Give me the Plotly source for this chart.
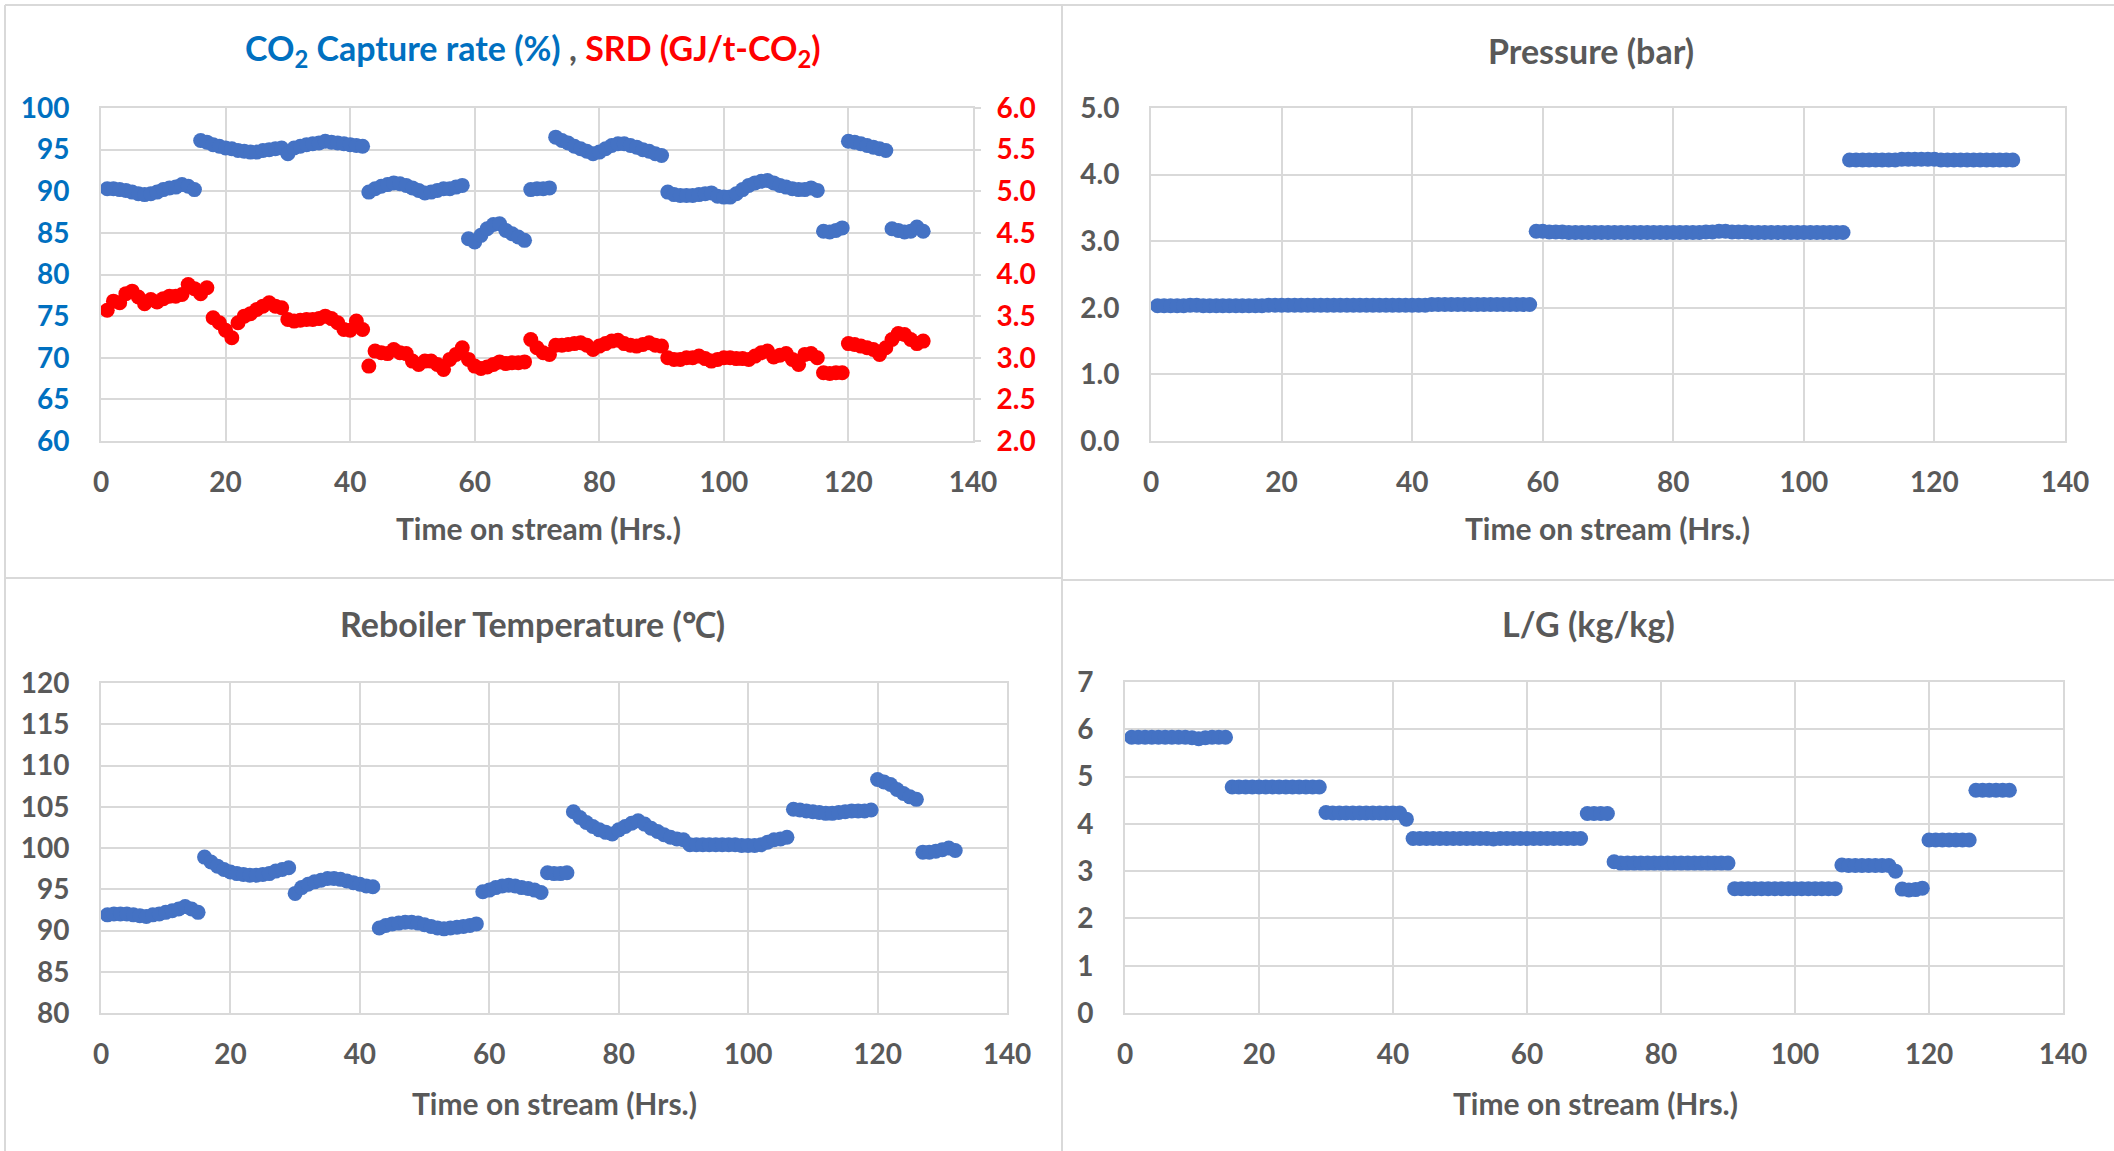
import plotly.graph_objects as go

# ---------------- data (hourly readings, grouped into runs) ----------------
capture_starts = [1, 16, 43, 59, 69, 73, 91, 116, 120, 127]
capture_values = [
    [90.3, 90.3, 90.2, 90.1, 89.9, 89.7, 89.6, 89.7, 89.9, 90.2, 90.4, 90.5, 90.8, 90.6, 90.2],
    [96.1, 95.9, 95.6, 95.4, 95.2, 95.1, 94.9, 94.8, 94.7, 94.7, 94.9, 95.0, 95.1, 95.2, 94.5,
     95.2, 95.4, 95.6, 95.7, 95.8, 96.0, 95.9, 95.8, 95.7, 95.6, 95.5, 95.4],
    [89.9, 90.3, 90.6, 90.8, 91.0, 90.9, 90.7, 90.4, 90.1, 89.8, 89.9, 90.1, 90.3, 90.3, 90.5, 90.7],
    [84.3, 83.9, 84.7, 85.5, 86.0, 86.1, 85.3, 84.9, 84.5, 84.1],
    [90.2, 90.3, 90.3, 90.4],
    [96.5, 96.1, 95.8, 95.4, 95.1, 94.8, 94.5, 94.7, 95.1, 95.5, 95.7, 95.7, 95.5, 95.3, 95.0,
     94.8, 94.5, 94.3],
    [89.9, 89.6, 89.5, 89.5, 89.5, 89.6, 89.7, 89.8, 89.4, 89.3, 89.3, 89.7, 90.2, 90.7, 91.0,
     91.2, 91.3, 91.0, 90.7, 90.5, 90.3, 90.2, 90.2, 90.4, 90.1],
    [85.2, 85.1, 85.3, 85.6],
    [96.0, 95.9, 95.7, 95.5, 95.3, 95.1, 94.9],
    [85.5, 85.3, 85.1, 85.2, 85.7, 85.2],
]

srd_starts = [1, 18, 43, 59, 69, 73, 91, 116, 120]
srd_values = [
    [3.57, 3.68, 3.66, 3.77, 3.80, 3.73, 3.65, 3.70, 3.67, 3.71, 3.74, 3.74, 3.76, 3.88, 3.83, 3.77, 3.84],
    [3.48, 3.42, 3.33, 3.24, 3.42, 3.50, 3.53, 3.58, 3.62, 3.66, 3.62, 3.60, 3.46, 3.44, 3.45,
     3.46, 3.46, 3.47, 3.50, 3.47, 3.42, 3.34, 3.33, 3.44, 3.34],
    [2.90, 3.08, 3.06, 3.05, 3.10, 3.06, 3.05, 2.96, 2.92, 2.96, 2.96, 2.92, 2.86, 2.98, 3.04, 3.12],
    [2.98, 2.90, 2.87, 2.89, 2.92, 2.95, 2.93, 2.94, 2.94, 2.95],
    [3.22, 3.12, 3.06, 3.04],
    [3.15, 3.15, 3.16, 3.17, 3.18, 3.15, 3.10, 3.14, 3.17, 3.20, 3.21, 3.17, 3.15, 3.14, 3.16,
     3.18, 3.15, 3.14],
    [3.00, 2.98, 2.98, 3.00, 3.00, 3.02, 2.99, 2.96, 2.98, 3.00, 3.00, 2.99, 2.99, 2.98, 3.02,
     3.06, 3.08, 3.01, 3.03, 3.05, 2.98, 2.92, 3.04, 3.05, 3.00],
    [2.82, 2.81, 2.82, 2.82],
    [3.17, 3.16, 3.14, 3.12, 3.10, 3.04, 3.12, 3.22, 3.29, 3.28, 3.22, 3.17, 3.20],
]

pressure_starts = [1, 59, 107]
pressure_values = [
    [2.03, 2.03, 2.03, 2.03, 2.03, 2.04, 2.04, 2.03, 2.03, 2.03, 2.03, 2.03, 2.03, 2.03, 2.03,
     2.03, 2.03, 2.04, 2.04, 2.04, 2.04, 2.04, 2.04, 2.04, 2.04, 2.04, 2.04, 2.04, 2.04, 2.04,
     2.04, 2.04, 2.04, 2.04, 2.04, 2.04, 2.04, 2.04, 2.04, 2.04, 2.04, 2.04, 2.05, 2.05, 2.05,
     2.05, 2.05, 2.05, 2.05, 2.05, 2.05, 2.05, 2.05, 2.05, 2.05, 2.05, 2.05, 2.05],
    [3.15, 3.15, 3.14, 3.14, 3.14, 3.13, 3.13, 3.13, 3.13, 3.13, 3.13, 3.13, 3.13, 3.13, 3.13,
     3.13, 3.13, 3.13, 3.13, 3.13, 3.13, 3.13, 3.13, 3.13, 3.13, 3.13, 3.14, 3.14, 3.15, 3.15,
     3.14, 3.14, 3.14, 3.13, 3.13, 3.13, 3.13, 3.13, 3.13, 3.13, 3.13, 3.13, 3.13, 3.13, 3.13,
     3.13, 3.13, 3.13],
    [4.22, 4.22, 4.22, 4.22, 4.22, 4.22, 4.22, 4.22, 4.23, 4.23, 4.23, 4.23, 4.23, 4.23, 4.22,
     4.22, 4.22, 4.22, 4.22, 4.22, 4.22, 4.22, 4.22, 4.22, 4.22, 4.22],
]

reboiler_starts = [1, 16, 30, 43, 59, 69, 73, 107, 120, 127]
reboiler_values = [
    [91.9, 92.0, 92.0, 92.0, 91.9, 91.8, 91.7, 91.9, 92.0, 92.2, 92.4, 92.6, 92.9, 92.6, 92.2],
    [98.9, 98.3, 97.8, 97.4, 97.1, 96.9, 96.8, 96.7, 96.7, 96.8, 96.9, 97.2, 97.4, 97.6],
    [94.5, 95.2, 95.6, 95.9, 96.1, 96.3, 96.3, 96.2, 96.0, 95.8, 95.6, 95.4, 95.3],
    [90.3, 90.6, 90.8, 90.9, 91.0, 91.0, 90.9, 90.7, 90.5, 90.3, 90.2, 90.3, 90.4, 90.5, 90.6, 90.8],
    [94.7, 94.9, 95.2, 95.4, 95.5, 95.4, 95.2, 95.1, 94.9, 94.6],
    [97.0, 96.9, 96.9, 97.0],
    [104.4, 103.7, 103.1, 102.6, 102.2, 101.9, 101.7, 102.2, 102.6, 103.0, 103.3, 102.9, 102.4,
     102.0, 101.6, 101.3, 101.1, 101.0, 100.4, 100.4, 100.4, 100.4, 100.4, 100.4, 100.4, 100.4,
     100.3, 100.3, 100.3, 100.4, 100.7, 101.0, 101.1, 101.3],
    [104.7, 104.6, 104.5, 104.4, 104.3, 104.2, 104.2, 104.3, 104.4, 104.5, 104.5, 104.5, 104.6],
    [108.3, 108.0, 107.7, 107.1, 106.6, 106.2, 105.9],
    [99.5, 99.5, 99.6, 99.8, 100.0, 99.7],
]

lg_starts = [1, 16, 30, 43, 69, 73, 91, 107, 116, 120, 127]
lg_values = [
    [5.83, 5.83, 5.83, 5.83, 5.83, 5.83, 5.83, 5.83, 5.83, 5.82, 5.80, 5.82, 5.83, 5.83, 5.83],
    [4.78, 4.78, 4.78, 4.78, 4.78, 4.78, 4.78, 4.78, 4.78, 4.78, 4.78, 4.78, 4.78, 4.78],
    [4.24, 4.23, 4.23, 4.23, 4.23, 4.23, 4.23, 4.23, 4.23, 4.23, 4.23, 4.23, 4.10],
    [3.69, 3.69, 3.69, 3.69, 3.69, 3.69, 3.69, 3.69, 3.69, 3.69, 3.69, 3.69, 3.68, 3.69, 3.69,
     3.69, 3.69, 3.69, 3.69, 3.69, 3.69, 3.69, 3.69, 3.69, 3.69, 3.69],
    [4.22, 4.22, 4.22, 4.22],
    [3.20, 3.17, 3.17, 3.17, 3.17, 3.17, 3.17, 3.17, 3.17, 3.17, 3.17, 3.17, 3.17, 3.17, 3.17,
     3.17, 3.17, 3.17],
    [2.63, 2.63, 2.63, 2.63, 2.63, 2.63, 2.63, 2.63, 2.63, 2.63, 2.63, 2.63, 2.63, 2.63, 2.63, 2.63],
    [3.13, 3.12, 3.12, 3.12, 3.12, 3.12, 3.12, 3.12, 3.00],
    [2.62, 2.60, 2.61, 2.64],
    [3.66, 3.66, 3.66, 3.66, 3.66, 3.66, 3.66],
    [4.71, 4.71, 4.71, 4.71, 4.71, 4.71],
]

x_ticks = [0, 20, 40, 60, 80, 100, 120, 140]


def expand(starts, values):
    xs, ys = [], []
    for s, vals in zip(starts, values):
        for i, v in enumerate(vals):
            xs.append(s + i)
            ys.append(v)
    return xs, ys


W, H = 2114, 1151
BLUE = "#4472C4"
RED = "#FF0000"
GREY = "#595959"
GRID = "#D9D9D9"
FONT = "Lato"
MSIZE = 15


def px(x):
    return x / W


def py(y):
    return 1 - y / H


fig = go.Figure()

cx, cy = expand(capture_starts, capture_values)
sx, sy = expand(srd_starts, srd_values)
prx, pry = expand(pressure_starts, pressure_values)
rx, ry = expand(reboiler_starts, reboiler_values)
lx, ly = expand(lg_starts, lg_values)

mk = lambda c: dict(color=c, size=MSIZE, line=dict(width=0))
fig.add_trace(go.Scatter(x=cx, y=cy, mode="markers", marker=mk(BLUE), xaxis="x", yaxis="y", showlegend=False))
fig.add_trace(go.Scatter(x=sx, y=sy, mode="markers", marker=mk(RED), xaxis="x", yaxis="y5", showlegend=False))
fig.add_trace(go.Scatter(x=prx, y=pry, mode="markers", marker=mk(BLUE), xaxis="x2", yaxis="y2", showlegend=False))
fig.add_trace(go.Scatter(x=rx, y=ry, mode="markers", marker=mk(BLUE), xaxis="x3", yaxis="y3", showlegend=False))
fig.add_trace(go.Scatter(x=lx, y=ly, mode="markers", marker=mk(BLUE), xaxis="x4", yaxis="y4", showlegend=False))

TICK_SIZE = 28
tickfont = dict(family=FONT, size=TICK_SIZE, color=GREY, weight=700)


def xax(domain, anchor):
    return dict(domain=domain, anchor=anchor, range=[0, 140], tickvals=x_ticks,
                showgrid=True, gridcolor=GRID, gridwidth=2, zeroline=False,
                showline=True, linecolor=GRID, linewidth=2, mirror=True, automargin=False,
                ticks="", tickfont=tickfont, ticklabelstandoff=15, fixedrange=True)


def yax(domain, anchor, rng, dtick, fmt, color=GREY):
    return dict(domain=domain, anchor=anchor, range=rng, dtick=dtick, tick0=rng[0],
                tickformat=fmt, showgrid=True, gridcolor=GRID, gridwidth=2, zeroline=False,
                showline=True, linecolor=GRID, linewidth=2, mirror=True, ticks="",
                automargin=False,
                tickfont=dict(family=FONT, size=TICK_SIZE, color=color, weight=700),
                ticklabelstandoff=24, fixedrange=True)


TLx = [px(101), px(973)]
TRx = [px(1151), px(2065)]
BLx = [px(101), px(1007)]
BRx = [px(1125), px(2063)]
TOPy = [py(441), py(108)]
BLy = [py(1013), py(683)]
BRy = [py(1013), py(682)]

fig.update_layout(
    width=W, height=H, autosize=False,
    margin=dict(l=0, r=0, t=0, b=0, pad=0, autoexpand=False),
    paper_bgcolor="white", plot_bgcolor="white",
    xaxis=xax(TLx, "y"),
    yaxis=yax(TOPy, "x", [60, 100], 5, "d", color="#0070C0"),
    yaxis5=dict(overlaying="y", anchor="x", side="right", range=[2, 6], dtick=0.5, tick0=2,
                tickformat=".1f", showgrid=False, zeroline=False, showline=False,
                ticks="outside", ticklen=7, tickcolor=GRID, tickwidth=2, automargin=False,
                tickfont=dict(family=FONT, size=TICK_SIZE, color=RED, weight=700),
                ticklabelstandoff=10, fixedrange=True),
    xaxis2=xax(TRx, "y2"),
    yaxis2=yax(TOPy, "x2", [0, 5], 1, ".1f"),
    xaxis3=xax(BLx, "y3"),
    yaxis3=yax(BLy, "x3", [80, 120], 5, "d"),
    xaxis4=xax(BRx, "y4"),
    yaxis4=yax(BRy, "x4", [0, 7], 1, "d"),
)

title_font = dict(family=FONT, size=34, color=GREY, weight=700)
axis_title_font = dict(family=FONT, size=30, color=GREY, weight=700)

annots = [
    (533, 50, "<span style='color:#0070C0'>CO<sub>2</sub> Capture rate (%)</span> , "
              "<span style='color:#FF0000'>SRD (GJ/t-CO<sub>2</sub>)</span>", title_font),
    (1591, 50, "Pressure (bar)", title_font),
    (532, 623, "Reboiler Temperature (℃)", title_font),
    (1588, 623, "L/G (kg/kg)", title_font),
    (538, 528, "Time on stream (Hrs.)", axis_title_font),
    (1607, 528, "Time on stream (Hrs.)", axis_title_font),
    (554, 1103, "Time on stream (Hrs.)", axis_title_font),
    (1595, 1103, "Time on stream (Hrs.)", axis_title_font),
]
for x, y, t, f in annots:
    fig.add_annotation(x=px(x), y=py(y), xref="paper", yref="paper", text=t, showarrow=False,
                       font=f, xanchor="center", yanchor="middle")

# chart-area frames
border = dict(color=GRID, width=2)
lines = [
    (5, 5, 2114, 5),
    (5, 5, 5, 1151),
    (1062, 5, 1062, 1151),
    (5, 578, 1062, 578),
    (1062, 580, 2114, 580),
]
for x0, y0, x1, y1 in lines:
    fig.add_shape(type="line", xref="paper", yref="paper", x0=px(x0), y0=py(y0), x1=px(x1), y1=py(y1),
                  line=border, layer="below")

fig.write_html("out.html")
